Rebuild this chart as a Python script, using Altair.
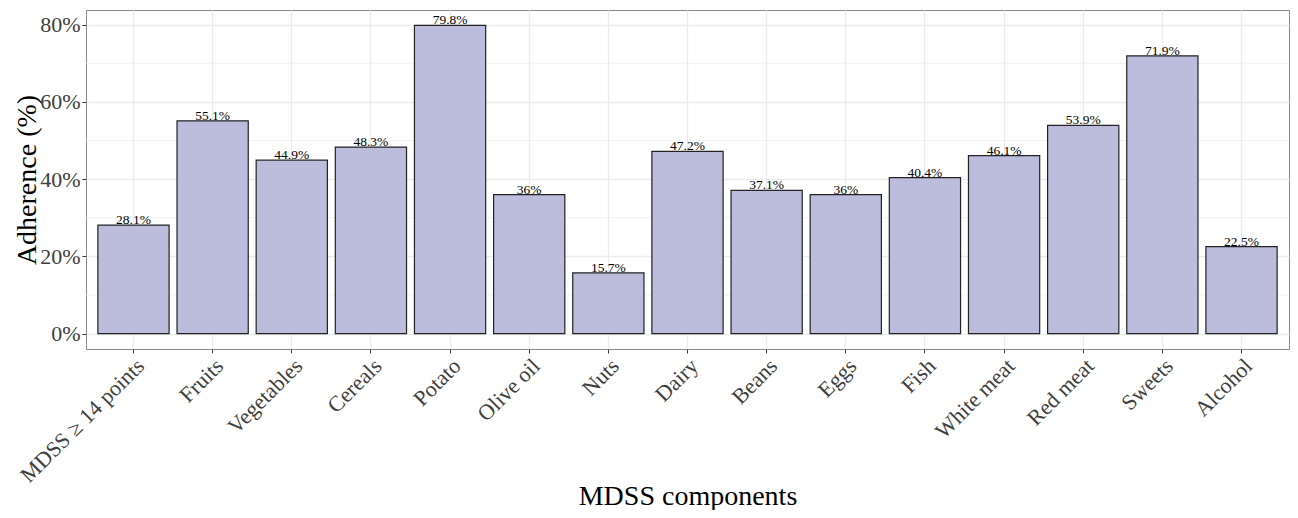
import altair as alt
import pandas as pd

categories = ["MDSS ≥ 14 points", "Fruits", "Vegetables", "Cereals", "Potato",
              "Olive oil", "Nuts", "Dairy", "Beans", "Eggs", "Fish",
              "White meat", "Red meat", "Sweets", "Alcohol"]
adherence = [28.1, 55.1, 44.9, 48.3, 79.8, 36, 15.7, 47.2, 37.1, 36, 40.4,
             46.1, 53.9, 71.9, 22.5]
major_ticks = [0, 20, 40, 60, 80]
minor_ticks = [10, 30, 50, 70]

FONT = "Liberation Serif"

df = pd.DataFrame({"cat": categories, "v": adherence})
df_minor = pd.DataFrame({"v": minor_ticks})

yscale = alt.Scale(domain=[-3.99, 83.79], nice=False, zero=False)
yaxis = alt.Axis(values=major_ticks, labelExpr="datum.value + '%'",
                 title="Adherence (%)", grid=True, gridColor="#ebebeb",
                 gridWidth=1.3, domain=False, tickColor="#333333", tickSize=4,
                 labelPadding=2, labelFontSize=22, labelColor="#404040",
                 labelFont=FONT, titleFont=FONT, titleFontSize=28,
                 titleFontWeight="normal", titleColor="black",
                 titleX=-51, titleBaseline="alphabetic", titleAngle=-90)
xscale = alt.Scale(paddingInner=0.1, paddingOuter=0.15)
xaxis = alt.Axis(title="MDSS components", labelAngle=-45, labelAlign="right",
                 labelBaseline="top", bandPosition=0.5, grid=True,
                 gridColor="#ebebeb", gridWidth=1.3, domain=False,
                 tickColor="#333333", tickSize=4, labelPadding=2,
                 labelFontSize=22, labelColor="#404040", labelFont=FONT,
                 labelOverlap=False, labelBound=False,
                 titleFont=FONT, titleFontSize=28, titleFontWeight="normal",
                 titleColor="black", titleY=155, titleBaseline="alphabetic")

minor = alt.Chart(df_minor).mark_rule(color="#ebebeb", strokeWidth=0.7).encode(
    y=alt.Y("v:Q", scale=yscale, axis=yaxis)
)

bars = alt.Chart(df).mark_bar(fill="#bcbddc", stroke="#222222",
                              strokeWidth=1.2).transform_calculate(
    zero="0"
).encode(
    x=alt.X("cat:N", sort=categories, scale=xscale, axis=xaxis),
    y=alt.Y("v:Q", scale=yscale, axis=yaxis),
    y2=alt.Y2("zero:Q"),
)

text = alt.Chart(df).mark_text(font=FONT, fontSize=13.5, color="black",
                               baseline="alphabetic", dy=-1).transform_calculate(
    lbl="datum.v + '%'"
).encode(
    x=alt.X("cat:N", sort=categories, scale=xscale, axis=xaxis),
    y=alt.Y("v:Q", scale=yscale, axis=yaxis),
    text="lbl:N",
)

chart = alt.layer(minor, bars, text).properties(
    width=1203, height=339,
    autosize=alt.AutoSizeParams(type="none"),
    padding={"left": 78, "top": 2, "right": 1, "bottom": 161},
).configure_view(stroke="#8a8a8a", strokeWidth=1)

chart.save("out.html", embed_options={"renderer": "svg", "actions": False})
